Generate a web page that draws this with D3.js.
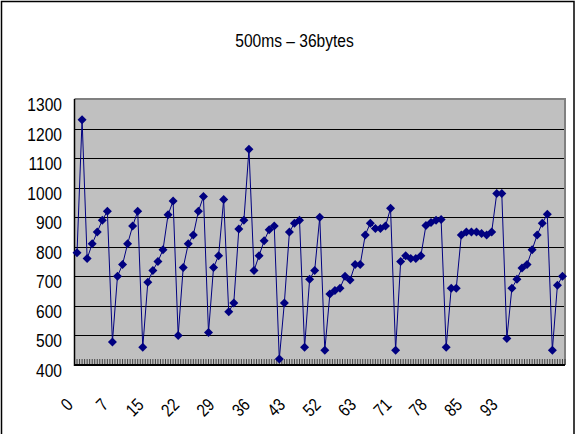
<!DOCTYPE html>
<html>
<head>
<meta charset="utf-8">
<script src="https://cdn.jsdelivr.net/npm/d3@7"></script>
<style>
  html, body { margin: 0; padding: 0; background: #fff; }
  svg { display: block; }
  text { font-family: "Liberation Sans", Arial, sans-serif; fill: #000; }
</style>
</head>
<body>
<svg id="chart" width="578" height="434"></svg>
<script>
// Response time per sample (500 ms interval, 36-byte payload)
const values = [
  780, 1230, 760, 810, 850, 890, 920, 478, 700, 740,
  810, 870, 920, 460, 680, 720, 750, 790, 908, 955,
  500, 730, 810, 840, 920, 970, 510, 730, 770, 960,
  580, 610, 860, 890, 1130, 720, 770, 820, 858, 870,
  420, 610, 850, 880, 890, 460, 690, 720, 900, 450,
  640, 652, 660, 700, 688, 740, 740, 840, 880, 862,
  862, 870, 930, 450, 750, 770, 760, 760, 770, 872,
  882, 890, 892, 460, 660, 660, 840, 850, 850, 850,
  845, 840, 850, 980, 980, 490, 660, 690, 728, 740,
  790, 840, 880, 910, 450, 670, 700
];
// Category labels shown every 7th sample
const xTickLabels = ["0", "7", "15", "22", "29", "36", "43", "52", "63", "71", "78", "85", "93"];
const xLabelStep = 7;
// Value axis ticks
const yTickValues = [400, 500, 600, 700, 800, 900, 1000, 1100, 1200, 1300];
const titleText = "500ms \u2013 36bytes";

const svg = d3.select("#chart");
const plot = { left: 74.5, right: 565, top: 99, bottom: 365 };
const squeeze = 0.82;   // narrow glyphs

// Chart area frame
svg.append("rect")
  .attr("x", 1.5).attr("y", 1.5)
  .attr("width", 572.5).attr("height", 440)
  .attr("fill", "#fff").attr("stroke", "#000").attr("stroke-width", 1.5);

const x = d3.scaleBand()
  .domain(d3.range(values.length))
  .range([plot.left, plot.right])
  .paddingInner(0).paddingOuter(0);
const cx = i => x(i) + x.bandwidth() / 2;

const y = d3.scaleLinear()
  .domain([yTickValues[0], yTickValues[yTickValues.length - 1]])
  .range([plot.bottom, plot.top]);

// Plot background
svg.append("rect")
  .attr("x", plot.left).attr("y", plot.top)
  .attr("width", plot.right - plot.left).attr("height", plot.bottom - plot.top)
  .attr("fill", "#c0c0c0");

// Horizontal gridlines
svg.append("g")
  .selectAll("line")
  .data(yTickValues.slice(1, -1))
  .join("line")
  .attr("x1", plot.left).attr("x2", plot.right)
  .attr("y1", d => Math.round(y(d)) + 0.5).attr("y2", d => Math.round(y(d)) + 0.5)
  .attr("stroke", "#000").attr("stroke-width", 1);

// Plot border (top and right)
svg.append("path")
  .attr("d", `M${plot.left},${plot.top} H${plot.right} V${plot.bottom}`)
  .attr("fill", "none").attr("stroke", "#808080").attr("stroke-width", 2);

// Category tick marks (inside)
const tickPos = d3.range(values.length * 2 + 1).map(k => plot.left + k * x.bandwidth() / 2);
svg.append("g")
  .selectAll("line")
  .data(tickPos)
  .join("line")
  .attr("x1", d => d).attr("x2", d => d)
  .attr("y1", plot.bottom - 6).attr("y2", plot.bottom)
  .attr("stroke", "#333").attr("stroke-width", 0.9);

// Axis lines
svg.append("line")
  .attr("x1", plot.left).attr("x2", plot.left)
  .attr("y1", plot.top).attr("y2", plot.bottom + 1)
  .attr("stroke", "#000").attr("stroke-width", 1.5);
svg.append("line")
  .attr("x1", plot.left).attr("x2", plot.right)
  .attr("y1", plot.bottom).attr("y2", plot.bottom)
  .attr("stroke", "#000").attr("stroke-width", 2);

// Series line
svg.append("path")
  .datum(values)
  .attr("d", d3.line().x((d, i) => cx(i)).y(d => y(d)))
  .attr("fill", "none")
  .attr("stroke", "#000080")
  .attr("stroke-width", 1);

// Diamond markers
const r = 4.5;
svg.append("g")
  .selectAll("path")
  .data(values)
  .join("path")
  .attr("d", (d, i) => {
    const px = cx(i), py = y(d);
    return `M${px},${py - r} L${px + r},${py} L${px},${py + r} L${px - r},${py} Z`;
  })
  .attr("fill", "#000080");

// Value axis labels
svg.append("g")
  .selectAll("text")
  .data(yTickValues)
  .join("text")
  .attr("transform", d => `translate(62,${y(d) + 12}) scale(${squeeze},1)`)
  .attr("text-anchor", "end")
  .style("font-size", "19px")
  .text(d => d);

// Category labels, rotated
svg.append("g")
  .selectAll("text")
  .data(xTickLabels)
  .join("text")
  .attr("transform", (d, k) => `translate(${cx(k * xLabelStep) - 3},406) rotate(-45) scale(${squeeze},1)`)
  .attr("text-anchor", "end")
  .style("font-size", "18px")
  .text(d => d);

// Title
svg.append("text")
  .attr("transform", `translate(294.5,47) scale(${squeeze},1)`)
  .attr("text-anchor", "middle")
  .style("font-size", "19px")
  .text(titleText);
</script>
</body>
</html>
